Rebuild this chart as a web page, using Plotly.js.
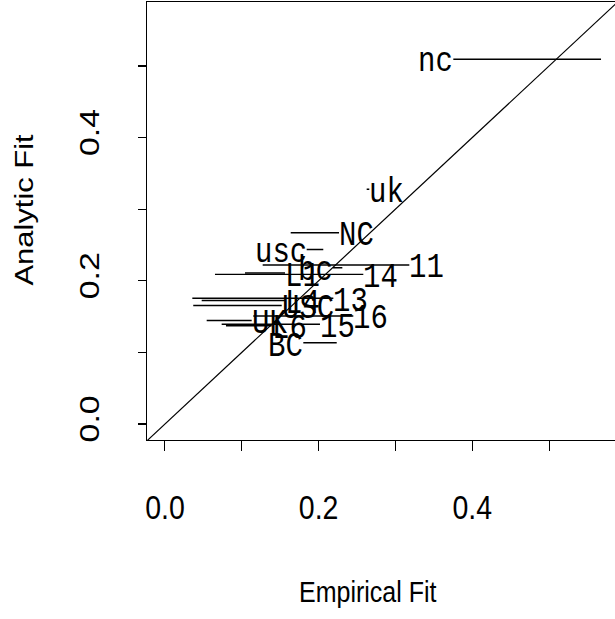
<!DOCTYPE html>
<html>
<head>
<meta charset="utf-8">
<script src="https://cdn.plot.ly/plotly-3.0.1.min.js"></script>
<style>
html { margin: 0; padding: 0; overflow: hidden; background: #ffffff; }
body { margin: 0; padding: 0; width: 615px; height: 619px; overflow: visible; background: #ffffff; }
#wrap { width: 620px; height: 521px; transform: scale(1, 1.19); transform-origin: 0 0; }
</style>
</head>
<body>
<div id="wrap"></div>
<script>
// Labels and values (Empirical Fit interval on x, Analytic Fit on y)
const labels   = ["nc", "uk", "NC", "usc", "11", "bc", "14", "L1", "13", "L4", "USC", "16", "UK", "15", "L6", "BC"];
const analytic = [0.5094, 0.3278, 0.2672, 0.2437, 0.2221, 0.2183, 0.2090, 0.2109, 0.1755, 0.1725, 0.1655, 0.1508, 0.1446, 0.1392, 0.1373, 0.1135];
const empLow   = [0.3754, 0.2626, 0.1637, 0.1845, 0.1272, 0.2188, 0.0651, 0.1042, 0.0356, 0.0478, 0.0368, 0.1150, 0.0543, 0.0738, 0.0794, 0.1801];
const empHigh  = [0.5677, 0.2660, 0.2266, 0.2061, 0.3181, 0.2309, 0.2582, 0.1563, 0.2192, 0.1563, 0.1520, 0.2452, 0.1129, 0.2018, 0.1389, 0.2236];
const labelSide = ["left", "right", "right", "left", "right", "left", "right", "right", "right", "right", "right", "right", "right", "right", "right", "left"];

const tickVals  = [0, 0.1, 0.2, 0.3, 0.4, 0.5];
const tickText  = ["0.0", "", "0.2", "", "0.4", ""];
const xRange = [-0.0234, 0.5885];
const yRange = [-0.0228, 0.5889];

// segments
const segX = [], segY = [];
for (let i = 0; i < labels.length; i++) {
  segX.push(empLow[i], empHigh[i], null);
  segY.push(analytic[i], analytic[i], null);
}

const labelFont = { family: "Nimbus Mono PS, Nimbus Mono L, Courier New, Courier, Liberation Mono, monospace", size: 29, color: "#000000" };

const traces = [
  { type: "scatter", mode: "lines", x: segX, y: segY, line: { color: "#000000", width: 1.2 }, hoverinfo: "skip", showlegend: false },
  { type: "scatter", mode: "lines", x: [xRange[0], xRange[1]], y: [xRange[0], xRange[1]], line: { color: "#000000", width: 1.1 }, hoverinfo: "skip", showlegend: false }
];

const labelAnnots = labels.map((l, i) => ({
  text: l, xref: "x", yref: "y",
  x: labelSide[i] === "left" ? empLow[i] : empHigh[i],
  y: analytic[i],
  xanchor: labelSide[i] === "left" ? "right" : "left",
  yanchor: "middle",
  xshift: labelSide[i] === "left" ? 2 : -2,
  yshift: -3,
  showarrow: false, font: labelFont
}));

const axisFont = { family: "Liberation Sans, Arial, sans-serif", size: 28.5, color: "#000000" };

const layout = {
  width: 620, height: 521,
  margin: { l: 147, r: 3, t: 2, b: 151 },
  paper_bgcolor: "#ffffff", plot_bgcolor: "#ffffff",
  showlegend: false,
  xaxis: {
    range: xRange, tickmode: "array", tickvals: tickVals, ticktext: tickText,
    ticks: "outside", ticklen: 7.6, tickwidth: 1, tickcolor: "#000000",
    showline: true, mirror: true, linecolor: "#000000", linewidth: 1,
    showgrid: false, zeroline: false, tickfont: axisFont, ticklabelstandoff: 23
  },
  yaxis: {
    range: yRange, tickmode: "array", tickvals: tickVals, ticktext: tickText,
    ticks: "outside", ticklen: 8, tickwidth: 1, tickcolor: "#000000",
    showline: true, mirror: true, linecolor: "#000000", linewidth: 1,
    showgrid: false, zeroline: false, tickfont: axisFont, tickangle: -90, ticklabelstandoff: 28
  },
  annotations: labelAnnots.concat([
    { text: "Empirical Fit", xref: "paper", yref: "paper", x: 0.470, y: -0.346, xanchor: "center", yanchor: "middle",
      showarrow: false, font: { family: "Liberation Sans, Arial, sans-serif", size: 25, color: "#000000" } },
    { text: "Analytic Fit", xref: "paper", yref: "paper", x: -0.2606, y: 0.526, xanchor: "center", yanchor: "middle",
      textangle: -90, showarrow: false, font: { family: "Liberation Sans, Arial, sans-serif", size: 26, color: "#000000" } }
  ])
};

Plotly.newPlot("wrap", traces, layout, { displayModeBar: false, staticPlot: true });
</script>
</body>
</html>
